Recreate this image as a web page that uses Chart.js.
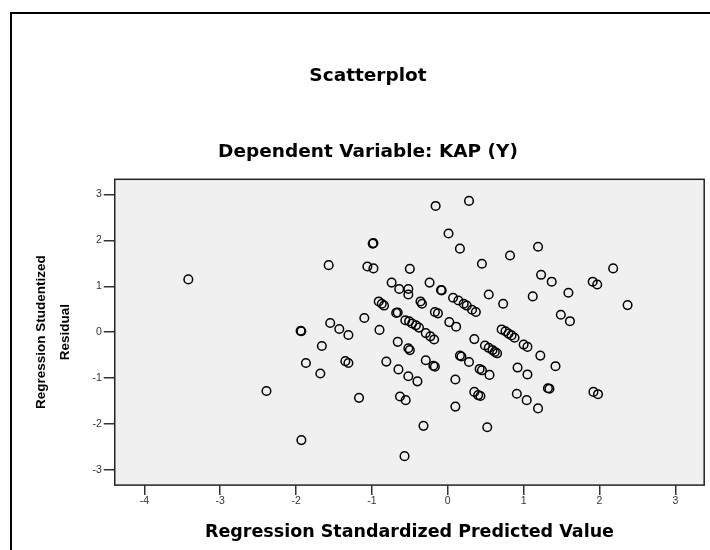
<!DOCTYPE html>
<html>
<head>
<meta charset="utf-8">
<title>Scatterplot</title>
<script src="https://cdn.jsdelivr.net/npm/chart.js@4.4.1/dist/chart.umd.min.js"></script>
<style>
    html, body { margin: 0; padding: 0; background: #fff; overflow: hidden; }
    #wrap { position: relative; width: 710px; height: 550px; overflow: hidden; }
    #frame {
        position: absolute; left: 10px; top: 12px;
        width: 800px; height: 700px;
        border: 2px solid #000; pointer-events: none;
    }
    canvas { position: absolute; left: 0; top: 0; }
</style>
</head>
<body>
<div id="wrap">
    <canvas id="scatter" width="710" height="550"></canvas>
    <div id="frame"></div>
</div>
<script>
// Values
const predicted = [
    -3.42, -2.39, -1.93, -1.94, -1.93, -1.87, -1.68, -1.66, -1.57, -1.55,
    -1.43, -1.31, -1.35, -1.31, -1.17, -1.10, -1.06, -0.98, -0.99, -0.98,
    -0.90, -0.91, -0.87, -0.84, -0.81, -0.74, -0.68, -0.66, -0.64, -0.52,
    -0.52, -0.50, -0.56, -0.51, -0.47, -0.42, -0.38, -0.66, -0.52, -0.50,
    -0.65, -0.52, -0.40, -0.63, -0.555, -0.32, -0.57, -0.36, -0.34, -0.24,
    -0.17, -0.13, -0.29, -0.23, -0.18, -0.29, -0.19, -0.17, -0.16, -0.09,
    -0.08, 0.01, 0.16, 0.28, 0.45, 0.07, 0.14, 0.21, 0.25, 0.32,
    0.37, 0.02, 0.11, 0.10, 0.10, 0.16, 0.18, 0.28, 0.35, 0.35,
    0.40, 0.43, 0.42, 0.45, 0.55, 0.49, 0.54, 0.59, 0.62, 0.65,
    0.52, 0.54, 0.73, 0.71, 0.76, 0.80, 0.84, 0.88, 0.82, 0.92,
    1.00, 1.05, 1.05, 0.91, 1.04, 1.12, 1.19, 1.19, 1.22, 1.23,
    1.32, 1.34, 1.37, 1.42, 1.49, 1.59, 1.61, 1.91, 1.97, 1.92,
    1.98, 2.18, 2.37
];
const residual = [
    1.15, -1.28, 0.02, 0.03, -2.35, -0.67, -0.90, -0.30, 1.46, 0.20,
    0.07, -0.06, -0.63, -0.67, -1.43, 0.31, 1.43, 1.39, 1.93, 1.94,
    0.05, 0.67, 0.62, 0.58, -0.64, 1.08, 0.42, 0.43, 0.94, 0.94,
    0.82, 1.38, 0.26, 0.24, 0.19, 0.15, 0.10, -0.21, -0.35, -0.39,
    -0.81, -0.96, -1.07, -1.40, -1.48, -2.04, -2.70, 0.67, 0.62, 1.08,
    0.44, 0.41, -0.02, -0.09, -0.16, -0.61, -0.73, -0.75, 2.75, 0.92,
    0.91, 2.15, 1.82, 2.86, 1.49, 0.75, 0.69, 0.62, 0.58, 0.49,
    0.44, 0.22, 0.12, -1.03, -1.62, -0.51, -0.53, -0.65, -0.15, -1.30,
    -1.37, -1.39, -0.80, -0.83, -0.93, -0.29, -0.34, -0.39, -0.43, -0.46,
    -2.07, 0.82, 0.62, 0.06, 0.02, -0.03, -0.07, -0.12, 1.67, -0.77,
    -0.27, -0.32, -0.92, -1.34, -1.48, 0.78, 1.86, -1.66, -0.51, 1.25,
    -1.22, -1.23, 1.10, -0.74, 0.38, 0.86, 0.24, 1.10, 1.04, -1.30,
    -1.35, 1.39, 0.59
];
const xTicks = [-4, -3, -2, -1, 0, 1, 2, 3];
const yTicks = [-3, -2, -1, 0, 1, 2, 3];

const points = predicted.map((x, i) => ({ x: x, y: residual[i] }));

// grey plot area with a dark frame
const plotFrame = {
    id: "plotFrame",
    beforeDatasetsDraw(chart) {
        const { ctx, chartArea: a } = chart;
        ctx.save();
        ctx.fillStyle = "#f0f0f0";
        ctx.fillRect(a.left, a.top, a.width, a.height);
        ctx.strokeStyle = "#222";
        ctx.lineWidth = 1.5;
        ctx.strokeRect(a.left, a.top, a.width, a.height);
        ctx.restore();
    }
};

const boldFont = "'DejaVu Sans', sans-serif";
const tickFont = { family: "'Liberation Sans', Arial, sans-serif", size: 10.5 };

new Chart(document.getElementById("scatter"), {
    type: "scatter",
    data: {
        datasets: [{
            data: points,
            pointStyle: "circle",
            pointRadius: 4.3,
            pointHoverRadius: 4.3,
            borderWidth: 1.5,
            borderColor: "#000",
            backgroundColor: "rgba(0,0,0,0)"
        }]
    },
    options: {
        responsive: false,
        animation: false,
        devicePixelRatio: 1,
        layout: { padding: { top: 0, right: 4, bottom: 0, left: 30 } },
        plugins: {
            legend: { display: false },
            tooltip: { enabled: false },
            title: {
                display: true,
                text: "Scatterplot",
                color: "#000",
                font: { family: boldFont, size: 18.5, weight: "bold" },
                padding: { top: 64.6, bottom: 54.1 }
            },
            subtitle: {
                display: true,
                text: "Dependent Variable: KAP (Y)",
                color: "#000",
                font: { family: boldFont, size: 18.5, weight: "bold" },
                padding: { top: 0, bottom: 16.2 }
            }
        },
        scales: {
            x: {
                type: "linear",
                min: -4.39,
                max: 3.38,
                afterBuildTicks: scale => { scale.ticks = xTicks.map(v => ({ value: v })); },
                grid: {
                    display: true,
                    drawOnChartArea: false,
                    drawTicks: true,
                    tickLength: 10,
                    tickColor: "#333",
                    tickWidth: 1.5,
                    lineWidth: 1.5
                },
                border: { display: false },
                ticks: { color: "#333", font: tickFont, padding: 0, maxRotation: 0 },
                title: {
                    display: true,
                    text: "Regression Standardized Predicted Value",
                    color: "#000",
                    font: { family: boldFont, size: 17.5, weight: "bold" },
                    padding: { top: 14.5, bottom: 6.8 }
                }
            },
            y: {
                type: "linear",
                min: -3.33,
                max: 3.33,
                afterBuildTicks: scale => { scale.ticks = yTicks.map(v => ({ value: v })); },
                grid: {
                    display: true,
                    drawOnChartArea: false,
                    drawTicks: true,
                    tickLength: 11,
                    tickColor: "#333",
                    tickWidth: 1.5,
                    lineWidth: 1.5
                },
                border: { display: false },
                ticks: { color: "#333", font: tickFont, padding: 2 },
                title: {
                    display: true,
                    text: ["Regression Studentized", "Residual"],
                    color: "#000",
                    font: { family: "'Liberation Sans', Arial, sans-serif", size: 13.5, weight: "bold", lineHeight: 1.726 },
                    padding: { top: 0, bottom: 13.8 }
                }
            }
        }
    },
    plugins: [plotFrame]
});
</script>
</body>
</html>
